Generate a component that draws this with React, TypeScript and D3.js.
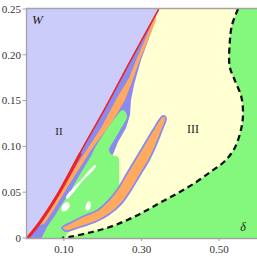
import React, { useEffect, useRef } from 'react';
import * as d3 from 'd3';

type Pt = [number, number]; // [delta, W]

// edge of region II (the red line), bottom -> top
const boundaryII: Pt[] = [
  [0.003, 0], [0.036, 0.0178], [0.0832, 0.0488], [0.139, 0.0925],
  [0.2058, 0.143], [0.2704, 0.1943], [0.3425, 0.25],
];

// outer edge of the blue scatter band along region II, top -> bottom
const bandOuter: Pt[] = [
  [0.3425, 0.25], [0.3271, 0.2271], [0.2987, 0.1943], [0.2807, 0.167],
  [0.273, 0.1507], [0.2704, 0.1343], [0.2601, 0.1201], [0.2395, 0.1048],
  [0.2292, 0.0939], [0.2189, 0.0852], [0.1931, 0.0721], [0.1674, 0.0611],
  [0.1416, 0.0502], [0.1159, 0.0393], [0.0901, 0.0284], [0.0695, 0.0175],
  [0.0541, 0.0087], [0.0438, 0],
];

// orange stripe inside that band
const orangeLeft: Pt[] = [
  [0.3348, 0.2424], [0.3142, 0.2216], [0.2884, 0.1965], [0.2678, 0.1747],
  [0.2369, 0.1528], [0.2163, 0.1365], [0.1957, 0.1201], [0.1725, 0.1048],
  [0.1519, 0.0917], [0.1365, 0.0819], [0.1159, 0.0677], [0.0979, 0.0546],
  [0.0773, 0.0393], [0.0567, 0.0251], [0.0386, 0.0142],
];
const orangeRight: Pt[] = [
  [0.0489, 0.0153], [0.067, 0.0262], [0.0876, 0.0404], [0.1082, 0.0546],
  [0.1288, 0.0688], [0.1494, 0.0819], [0.17, 0.0961], [0.1931, 0.1092],
  [0.2189, 0.1234], [0.2395, 0.1376], [0.2575, 0.1507], [0.2755, 0.1703],
  [0.2936, 0.1921], [0.3168, 0.2162], [0.3374, 0.238],
];

// green pocket inside region III
const innerGreen: Pt[] = [
  [0.2524, 0.1397], [0.2241, 0.1266], [0.2009, 0.1124], [0.1828, 0.1004],
  [0.17, 0.0895], [0.1545, 0.0786], [0.1391, 0.0677], [0.1262, 0.0579],
  [0.1159, 0.0491], [0.1004, 0.0404], [0.0876, 0.0317], [0.0747, 0.0229],
  [0.0618, 0.0153], [0.0515, 0.0076], [0.0464, 0], [0.1004, 0],
  [0.1107, 0.0055], [0.1416, 0.0131], [0.1828, 0.0207], [0.2189, 0.0317],
  [0.2344, 0.0426], [0.2421, 0.0568], [0.2421, 0.0721], [0.2395, 0.0884],
  [0.2241, 0.0906], [0.2163, 0.0961], [0.2266, 0.1048], [0.2447, 0.1179],
  [0.2627, 0.1332],
];

// the separate orange finger
const fingerUpper: Pt[] = [
  [0.3554, 0.1332], [0.3296, 0.1179], [0.3065, 0.1015], [0.2833, 0.0852],
  [0.2601, 0.0688], [0.2369, 0.0524], [0.2112, 0.0393], [0.188, 0.0306],
  [0.1519, 0.024], [0.121, 0.0175], [0.0953, 0.0109],
];
const fingerLower: Pt[] = [
  [0.1056, 0.0076], [0.1416, 0.012], [0.1803, 0.0175], [0.2138, 0.0251],
  [0.2472, 0.0371], [0.273, 0.0524], [0.2962, 0.0688], [0.3193, 0.0852],
  [0.3374, 0.1015], [0.3528, 0.1179], [0.3631, 0.131],
];

// unfilled (white) spots in the green pocket
const whiteSpots: Pt[][] = [
  [[0.1056, 0.0448], [0.1416, 0.0622], [0.1803, 0.0797], [0.1828, 0.0786], [0.1442, 0.06], [0.1082, 0.0426]],
  [[0.0953, 0.0349], [0.1082, 0.0393], [0.1159, 0.036], [0.1056, 0.0295], [0.0953, 0.0295]],
  [[0.1571, 0.036], [0.1648, 0.0404], [0.17, 0.0371], [0.1648, 0.0306], [0.1571, 0.0306]],
];

// dashed border between region III and the green region, top -> bottom
const dashedBoundary: Pt[] = [
  [0.5485, 0.25], [0.5331, 0.2325], [0.5272, 0.2129], [0.5272, 0.187],
  [0.54, 0.1725], [0.557, 0.1543], [0.5614, 0.1365], [0.557, 0.1198],
  [0.54, 0.0983], [0.5143, 0.0838], [0.4798, 0.0728], [0.437, 0.06],
  [0.394, 0.0491], [0.351, 0.0393], [0.3083, 0.0291], [0.2653, 0.02],
  [0.2163, 0.0117], [0.1674, 0.006], [0.1177, 0.0014], [0.0953, 0],
];

const xTicks = [0.1, 0.3, 0.5];
const xTickLabels = ['0.10', '0.30', '0.50'];
const yTicks = [0, 0.05, 0.1, 0.15, 0.2, 0.25];
const yTickLabels = ['0', '0.05', '0.10', '0.15', '0.20', '0.25'];

const colors = {
  II: '#ccccfa',
  III: '#ffffd2',
  green: '#84f87c',
  blue: '#8a8af0',
  orange: '#ffaa5e',
  red: '#ee2424',
};

export default function App() {
  const svgRef = useRef<SVGSVGElement>(null);

  useEffect(() => {
    if (!svgRef.current) return;
    const width = 257;
    const height = 259;
    const svg = d3.select(svgRef.current);
    svg.selectAll('*').remove();
    svg.attr('width', width).attr('height', height);

    const x = d3.scaleLinear().domain([0, 0.6]).range([25, 258]);
    const y = d3.scaleLinear().domain([0, 0.25]).range([238, 9]);
    const left = 26.5;
    const font = '"Liberation Serif", "DejaVu Serif", serif';

    const smooth = d3.line<Pt>().x(d => x(d[0])).y(d => y(d[1]))
      .curve(d3.curveCatmullRom.alpha(0.5));
    const smoothFn = (p: Pt[]) => smooth(p) as string;
    const closedSmooth = d3.line<Pt>().x(d => x(d[0])).y(d => y(d[1]))
      .curve(d3.curveCatmullRomClosed.alpha(0.5));
    const closedLin = d3.line<Pt>().x(d => x(d[0])).y(d => y(d[1]))
      .curve(d3.curveLinearClosed);

    svg.append('clipPath').attr('id', 'plot-clip')
      .append('rect')
      .attr('x', left).attr('y', y(0.25))
      .attr('width', width - left).attr('height', y(0) - y(0.25));

    const g = svg.append('g').attr('clip-path', 'url(#plot-clip)');

    // region III background
    g.append('rect')
      .attr('x', left).attr('y', y(0.25))
      .attr('width', width - left).attr('height', y(0) - y(0.25))
      .attr('fill', colors.III);

    // green region right of the dashed curve
    g.append('path')
      .attr('d', smoothFn(dashedBoundary) +
        `L${x(0.65)},${y(0)}L${x(0.65)},${y(0.25)}Z`)
      .attr('fill', colors.green);

    // scatter band along region II
    g.append('path')
      .attr('d', closedLin([...boundaryII, ...bandOuter.slice(1)]))
      .attr('fill', colors.blue);
    g.append('path')
      .attr('d', closedLin([...orangeLeft, ...orangeRight]))
      .attr('fill', colors.orange);

    // inner green pocket
    g.append('path')
      .attr('d', closedSmooth(innerGreen))
      .attr('fill', colors.green);

    // finger
    g.append('path')
      .attr('d', closedSmooth([...fingerUpper, ...fingerLower]))
      .attr('fill', colors.orange)
      .attr('stroke', colors.blue)
      .attr('stroke-width', 1.8)
      .attr('stroke-linejoin', 'round');

    whiteSpots.forEach(spot => {
      g.append('path')
        .attr('d', closedSmooth(spot))
        .attr('fill', '#ffffff');
    });

    // region II
    g.append('path')
      .attr('d', smoothFn(boundaryII) + `L${x(0)},${y(0.25)}L${x(0)},${y(0)}Z`)
      .attr('fill', colors.II);

    // red edge
    g.append('path')
      .attr('d', smoothFn(boundaryII))
      .attr('transform', 'translate(0.8,0)')
      .attr('fill', 'none')
      .attr('stroke', colors.red)
      .attr('stroke-width', 1.6);
    g.append('path')
      .attr('d', smoothFn(boundaryII.slice(0, 4)))
      .attr('transform', 'translate(1.5,0)')
      .attr('fill', 'none')
      .attr('stroke', colors.red)
      .attr('stroke-width', 3);

    // dashed boundary
    g.append('path')
      .attr('d', smoothFn(dashedBoundary))
      .attr('fill', 'none')
      .attr('stroke', '#111')
      .attr('stroke-width', 2.3)
      .attr('stroke-dasharray', '6 4');

    // frame
    const frame = '#a3a3a3';
    svg.append('path')
      .attr('d', `M${width},${y(0.25) - 0.5}H${left}V${y(0) + 0.5}H${width}`)
      .attr('fill', 'none')
      .attr('stroke', frame)
      .attr('stroke-width', 1.3);

    // y ticks
    yTicks.forEach((t, i) => {
      svg.append('line')
        .attr('x1', left - 4).attr('x2', left)
        .attr('y1', y(t)).attr('y2', y(t))
        .attr('stroke', frame).attr('stroke-width', 1);
      svg.append('text')
        .attr('x', left - 5.5).attr('y', y(t))
        .attr('dy', '0.35em')
        .attr('text-anchor', 'end')
        .attr('font-family', font).attr('font-size', 11)
        .attr('fill', '#333')
        .text(yTickLabels[i]);
    });

    // x ticks
    xTicks.forEach((t, i) => {
      svg.append('line')
        .attr('x1', x(t)).attr('x2', x(t))
        .attr('y1', y(0)).attr('y2', y(0) + 3)
        .attr('stroke', frame).attr('stroke-width', 1);
      svg.append('text')
        .attr('x', x(t)).attr('y', 253)
        .attr('text-anchor', 'middle')
        .attr('font-family', font).attr('font-size', 11)
        .attr('fill', '#333')
        .text(xTickLabels[i]);
    });

    // labels
    const label = (tx: number, ty: number, s: string, size: number, italic: boolean, anchor: string) =>
      svg.append('text')
        .attr('x', x(tx)).attr('y', y(ty))
        .attr('text-anchor', anchor)
        .attr('font-family', font).attr('font-size', size)
        .attr('font-style', italic ? 'italic' : 'normal')
        .attr('fill', '#222')
        .text(s);

    label(0.018, 0.2336, 'W', 13, true, 'start');
    label(0.0876, 0.1124, 'II', 11, false, 'middle');
    label(0.4327, 0.1146, 'III', 12, false, 'middle');
    label(0.5614, 0.0076, 'δ', 12, true, 'middle');
  }, []);

  return (
    <svg ref={svgRef} style={{ position: 'absolute', left: 0, top: 0, display: 'block' }} />
  );
}
